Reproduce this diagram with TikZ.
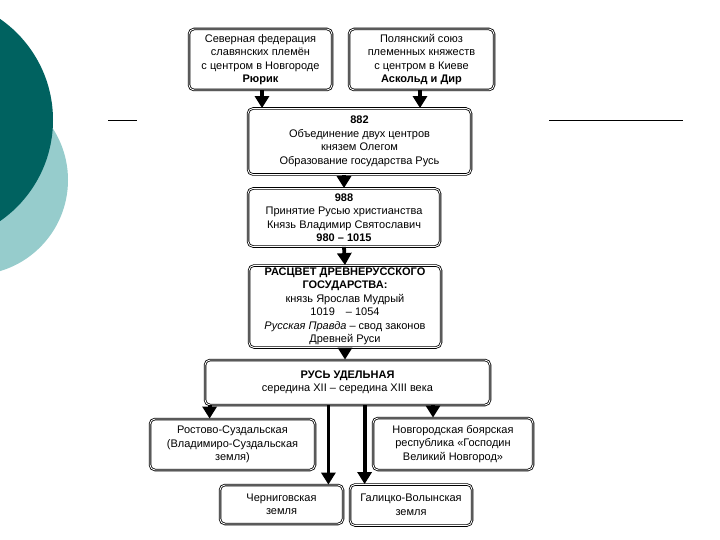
\documentclass[tikz,border=0pt]{standalone}
\usepackage{fontspec}
\setmainfont{Liberation Sans}
\usepackage{xcolor}
\usepackage{tikz}
\usetikzlibrary{arrows.meta,positioning}
\definecolor{tealdark}{RGB}{0,98,96}
\definecolor{teallight}{RGB}{150,204,204}

\begin{document}
\begin{tikzpicture}[x=1pt,y=-1pt,font=\fontsize{11}{13.5}\selectfont,
  box/.style={draw,rounded corners=5pt,line width=0.8pt,double,double distance=0.9pt,
    align=center,inner sep=0pt,fill=white},
  arr/.style={-{Triangle[width=14pt,length=12pt]},line width=3.8pt}]
\useasboundingbox (0,0) rectangle (720,540);
\begin{scope}
\clip (0,0) rectangle (720,540);
\fill[teallight] (-27,180) circle (95);
\fill[tealdark] (-70,120) circle (123);
\end{scope}
\draw[line width=0.8pt] (108,120) -- (137,120);
\draw[line width=0.8pt] (549,120) -- (683,120);

\node[box,minimum width=143pt,minimum height=61pt] (north) at (260.5,59.5)
  {Северная федерация\\славянских племён\\с центром в Новгороде\\\textbf{Рюрик}};
\node[box,minimum width=145pt,minimum height=61pt] (kiev) at (421.5,59.5)
  {Полянский союз\\племенных княжеств\\с центром в Киеве\\\textbf{Аскольд и Дир}};
\node[box,minimum width=223pt,minimum height=66pt] (oleg) at (359.5,141.5)
  {\textbf{882}\\Объединение двух центров\\князем Олегом\\Образование государства Русь};
\node[box,minimum width=192pt,minimum height=58pt] (vlad) at (344,217.5)
  {\textbf{988}\\Принятие Русью христианства\\Князь Владимир Святославич\\\textbf{980 – 1015}};
\node[box,minimum width=192pt,minimum height=82pt] (yarosl) at (345,306.5)
  {\textbf{РАСЦВЕТ ДРЕВНЕРУССКОГО}\\\textbf{ГОСУДАРСТВА:}\\князь Ярослав Мудрый\\1019\quad– 1054\\\textit{Русская Правда} – свод законов\\Древней Руси};
\node[box,minimum width=285pt,minimum height=45pt] (udel) at (347.5,382.5)
  {\textbf{РУСЬ УДЕЛЬНАЯ}\\середина XII – середина XIII века};
\node[box,minimum width=165pt,minimum height=51pt] (rost) at (232.5,444.5)
  {Ростово-Суздальская\\(Владимиро-Суздальская\\земля)};
\node[box,minimum width=160pt,minimum height=52pt] (novg) at (453,444)
  {Новгородская боярская\\республика «Господин\\Великий Новгород»};
\node[box,minimum width=123pt,minimum height=39pt] (cher) at (281.5,504.5)
  {Черниговская\\земля};
\node[box,minimum width=122pt,minimum height=41pt] (gal) at (411,505)
  {Галицко-Волынская\\земля};

\coordinate (c1) at ([xshift=1.5pt]north.south);
\coordinate (c2) at ([xshift=-1.5pt]kiev.south);
\coordinate (c7) at ([xshift=5pt]udel.south west);
\coordinate (c8) at ([xshift=-20pt]novg.north);
\coordinate (c9) at ([xshift=-15pt]cher.north east);
\coordinate (c10) at ([xshift=15pt]gal.north west);
\draw[arr] (c1) -- (c1 |- oleg.north);
\draw[arr] (c2) -- (c2 |- oleg.north);
\draw[arr] (vlad.north |- oleg.south) -- (vlad.north);
\draw[arr] (vlad.south) -- (yarosl.north);
\draw[arr] (yarosl.south) -- (yarosl.south |- udel.north);
\draw[arr] (c7) -- (c7 |- rost.north);
\draw[arr] (c8 |- udel.south) -- (c8);
\draw[arr] (c9 |- udel.south) -- (c9);
\draw[arr] (c10 |- udel.south) -- (c10);
\end{tikzpicture}
\end{document}
